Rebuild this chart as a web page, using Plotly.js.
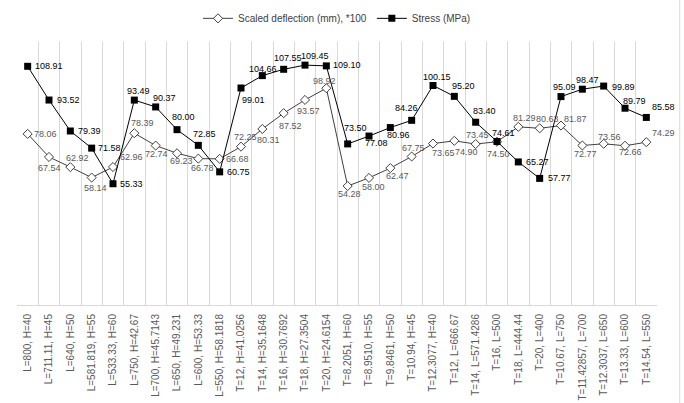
<!DOCTYPE html>
<html>
<head>
<meta charset="utf-8">
<script src="https://cdn.plot.ly/plotly-3.0.1.min.js"></script>
<style>html,body{margin:0;padding:0;background:#fff;}#chart{width:684px;height:403px;}</style>
</head>
<body>
<div id="chart"></div>
<script>
const categories = [
  "L=800, H=40", "L=711.11, H=45", "L=640, H=50", "L=581.819, H=55", "L=533.33, H=60",
  "L=750, H=42.67", "L=700, H=45.7143", "L=650, H=49.231", "L=600, H=53.33", "L=550, H=58.1818",
  "T=12, H=41.0256", "T=14, H=35.1648", "T=16, H=30.7692", "T=18, H=27.3504", "T=20, H=24.6154",
  "T=8.2051, H=60", "T=8.9510, H=55", "T=9.8461, H=50", "T=10.94, H=45", "T=12.3077, H=40",
  "T=12, L=666.67", "T=14, L=571.4286", "T=16, L=500", "T=18, L=444.44", "T=20, L=400",
  "T=10.67, L=750", "T=11.42857, L=700", "T=12.3037, L=650", "T=13.33, L=600", "T=14.54, L=550"
];
const deflection = [
  78.06, 67.54, 62.92, 58.14, 62.96,
  78.39, 72.74, 69.23, 66.78, 66.68,
  72.25, 80.31, 87.52, 93.57, 98.92,
  54.28, 58.00, 62.47, 67.75, 73.65,
  74.90, 73.45, 74.50, 81.29, 80.63,
  81.87, 72.77, 73.56, 72.66, 74.29
];
const stress = [
  108.91, 93.52, 79.39, 71.58, 55.33,
  93.49, 90.37, 80.00, 72.85, 60.75,
  99.01, 104.66, 107.55, 109.45, 109.10,
  73.50, 77.08, 80.96, 84.26, 100.15,
  95.20, 83.40, 74.61, 65.27, 57.77,
  95.09, 98.47, 99.89, 89.79, 85.58
];
const seriesNames = ["Scaled deflection (mm), *100", "Stress (MPa)"];

// label offsets in pixels (dx right, dy down) — styling only
const defDx = [18,0,7,4,18, 8,1,4,4,18, 4,6,7,3,-2, 2,4,7,2,10, 12,2,1,6,8, 14,3,6,5,17];
const defDy = [0,11,-9,10,-10, -10,8,8,9,0, -10,11,13,11,-7, 8,9,8,-9,9, 11,-9,12,-9,-9, -7,8,-7,6,-9];
const strDx = [21,19,19,18,18, 4,9,6,6,19, 12,1,4,10,21, 8,7,8,-5,4, 9,9,6,19,20, 3,5,20,9,17];
const strDy = [0,0,0,0,0, -9,-9,-13,-11,0, 12,-7,-11,-9,-1, -16,7,7,-12,-9, -10,-11,-8,0,0, -10,-9,1,-7,-10];

const fmt = v => v.toFixed(2);
const labelFont = "Liberation Sans, Arial, sans-serif";

const traces = [
  {
    x: categories, y: deflection, name: seriesNames[0], type: "scatter", mode: "lines+markers",
    line: {color: "#404040", width: 1},
    marker: {symbol: "diamond", size: 7, color: "#ffffff", line: {color: "#404040", width: 1}},
    cliponaxis: false
  },
  {
    x: categories, y: stress, name: seriesNames[1], type: "scatter", mode: "lines+markers",
    line: {color: "#000000", width: 1},
    marker: {symbol: "square", size: 7, color: "#000000", line: {color: "#000000", width: 0}},
    cliponaxis: false
  }
];

const annotations = [];
categories.forEach((c, i) => {
  annotations.push({x: c, y: deflection[i], xref: "x", yref: "y", text: fmt(deflection[i]),
    showarrow: false, xshift: defDx[i], yshift: -defDy[i], xanchor: "center", yanchor: "middle",
    font: {family: labelFont, size: 9, color: "#595959"}});
  annotations.push({x: c, y: stress[i], xref: "x", yref: "y", text: fmt(stress[i]),
    showarrow: false, xshift: strDx[i], yshift: -strDy[i], xanchor: "center", yanchor: "middle",
    font: {family: labelFont, size: 9, color: "#000000"}});
});

const layout = {
  width: 684, height: 403,
  margin: {l: 17, r: 27, t: 42, b: 98, pad: 0, autoexpand: false},
  paper_bgcolor: "#ffffff", plot_bgcolor: "#ffffff",
  showlegend: true,
  legend: {orientation: "h", x: 0.5, xanchor: "center", y: 1.09, yanchor: "middle",
    font: {family: labelFont, size: 10, color: "#404040"}, itemwidth: 30, tracegroupgap: 0},
  xaxis: {
    type: "category", tickson: "boundaries", showgrid: true, gridcolor: "#d9d9d9", gridwidth: 1,
    ticks: "outside", ticklen: 0, tickcolor: "#d9d9d9",
    showline: true, linecolor: "#d9d9d9", linewidth: 1,
    tickangle: -90, ticklabelstandoff: 4, automargin: false,
    tickfont: {family: "Liberation Sans, Arial, sans-serif", size: 10, color: "#595959"},
    range: [-0.5, 29.5], fixedrange: true
  },
  yaxis: {
    range: [0, 120], showgrid: false, zeroline: false, showticklabels: false, ticks: "",
    showline: false, fixedrange: true, automargin: false
  },
  annotations: annotations,
  shapes: [
    {type: "line", xref: "paper", yref: "paper", x0: 1.0355, x1: 1.0355, y0: -0.38, y1: 1.2,
     line: {color: "#d9d9d9", width: 1}}
  ]
};

Plotly.newPlot("chart", traces, layout, {displayModeBar: false, staticPlot: true});
</script>
</body>
</html>
